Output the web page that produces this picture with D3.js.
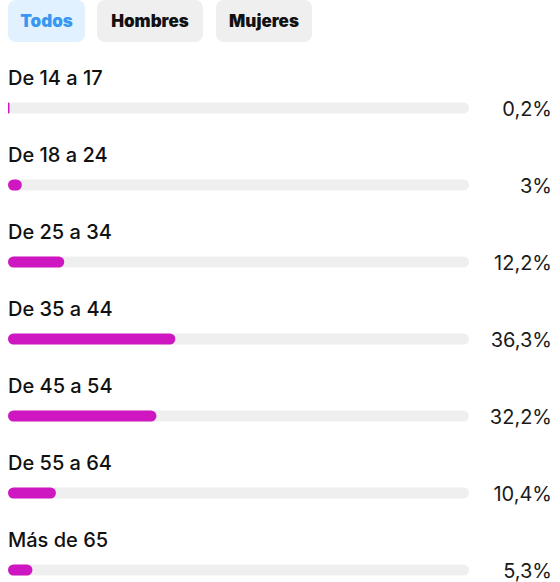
<!DOCTYPE html>
<html>
<head>
<meta charset="utf-8">
<script src="https://cdn.jsdelivr.net/npm/d3@7"></script>
<style>
  body { margin: 0; background: #fff; }
  svg { display: block; font-family: Inter, "Noto Sans", sans-serif; }
</style>
</head>
<body>
<svg id="chart" width="560" height="582"></svg>
<script>
const tabs = ["Todos", "Hombres", "Mujeres"];
const ages = ["De 14 a 17", "De 18 a 24", "De 25 a 34", "De 35 a 44", "De 45 a 54", "De 55 a 64", "Más de 65"];
const percents = [0.2, 3, 12.2, 36.3, 32.2, 10.4, 5.3];
const valueLabels = ["0,2%", "3%", "12,2%", "36,3%", "32,2%", "10,4%", "5,3%"];

const svg = d3.select("#chart");

// tabs on top
const tabBoxes = [[8, 77], [97, 106], [216, 96]];
const tab = svg.selectAll("g.tab")
  .data(tabs)
  .join("g")
  .attr("class", "tab")
  .attr("transform", (d, i) => `translate(${tabBoxes[i][0]},0)`);

tab.append("rect")
  .attr("width", (d, i) => tabBoxes[i][1])
  .attr("height", 42)
  .attr("rx", 8)
  .attr("fill", (d, i) => i === 0 ? "#e1f1ff" : "#efefef");

tab.append("text")
  .attr("x", (d, i) => tabBoxes[i][1] / 2)
  .attr("y", 27)
  .attr("text-anchor", "middle")
  .attr("font-size", 17)
  .attr("font-weight", 900)
  .attr("fill", (d, i) => i === 0 ? "#3897f0" : "#111")
  .text(d => d);

// scales
const x = d3.scaleLinear().domain([0, 100]).range([8, 469]);
const y = d3.scalePoint().domain(ages).range([108, 570]);
const barH = 11;

const row = svg.selectAll("g.row")
  .data(ages)
  .join("g")
  .attr("class", "row")
  .attr("transform", d => `translate(0,${y(d)})`);

// track
row.append("rect")
  .attr("x", x(0))
  .attr("y", -barH / 2)
  .attr("width", x(100) - x(0))
  .attr("height", barH)
  .attr("rx", barH / 2)
  .attr("fill", "#efefef");

// value bar
row.append("rect")
  .attr("x", x(0))
  .attr("y", -barH / 2)
  .attr("width", (d, i) => Math.max(1.5, x(percents[i]) - x(0)))
  .attr("height", barH)
  .attr("rx", (d, i) => Math.min(barH / 2, (x(percents[i]) - x(0)) / 2))
  .attr("fill", "#cf17c1");

// age label
row.append("text")
  .attr("x", 8)
  .attr("y", -23)
  .attr("font-size", 20)
  .attr("font-weight", 500)
  .attr("fill", "#111")
  .text(d => d);

// percent
row.append("text")
  .attr("x", 552)
  .attr("y", 8)
  .attr("text-anchor", "end")
  .attr("font-size", 20)
  .attr("font-weight", 400)
  .attr("fill", "#1a1a1a")
  .text((d, i) => valueLabels[i]);
</script>
</body>
</html>
